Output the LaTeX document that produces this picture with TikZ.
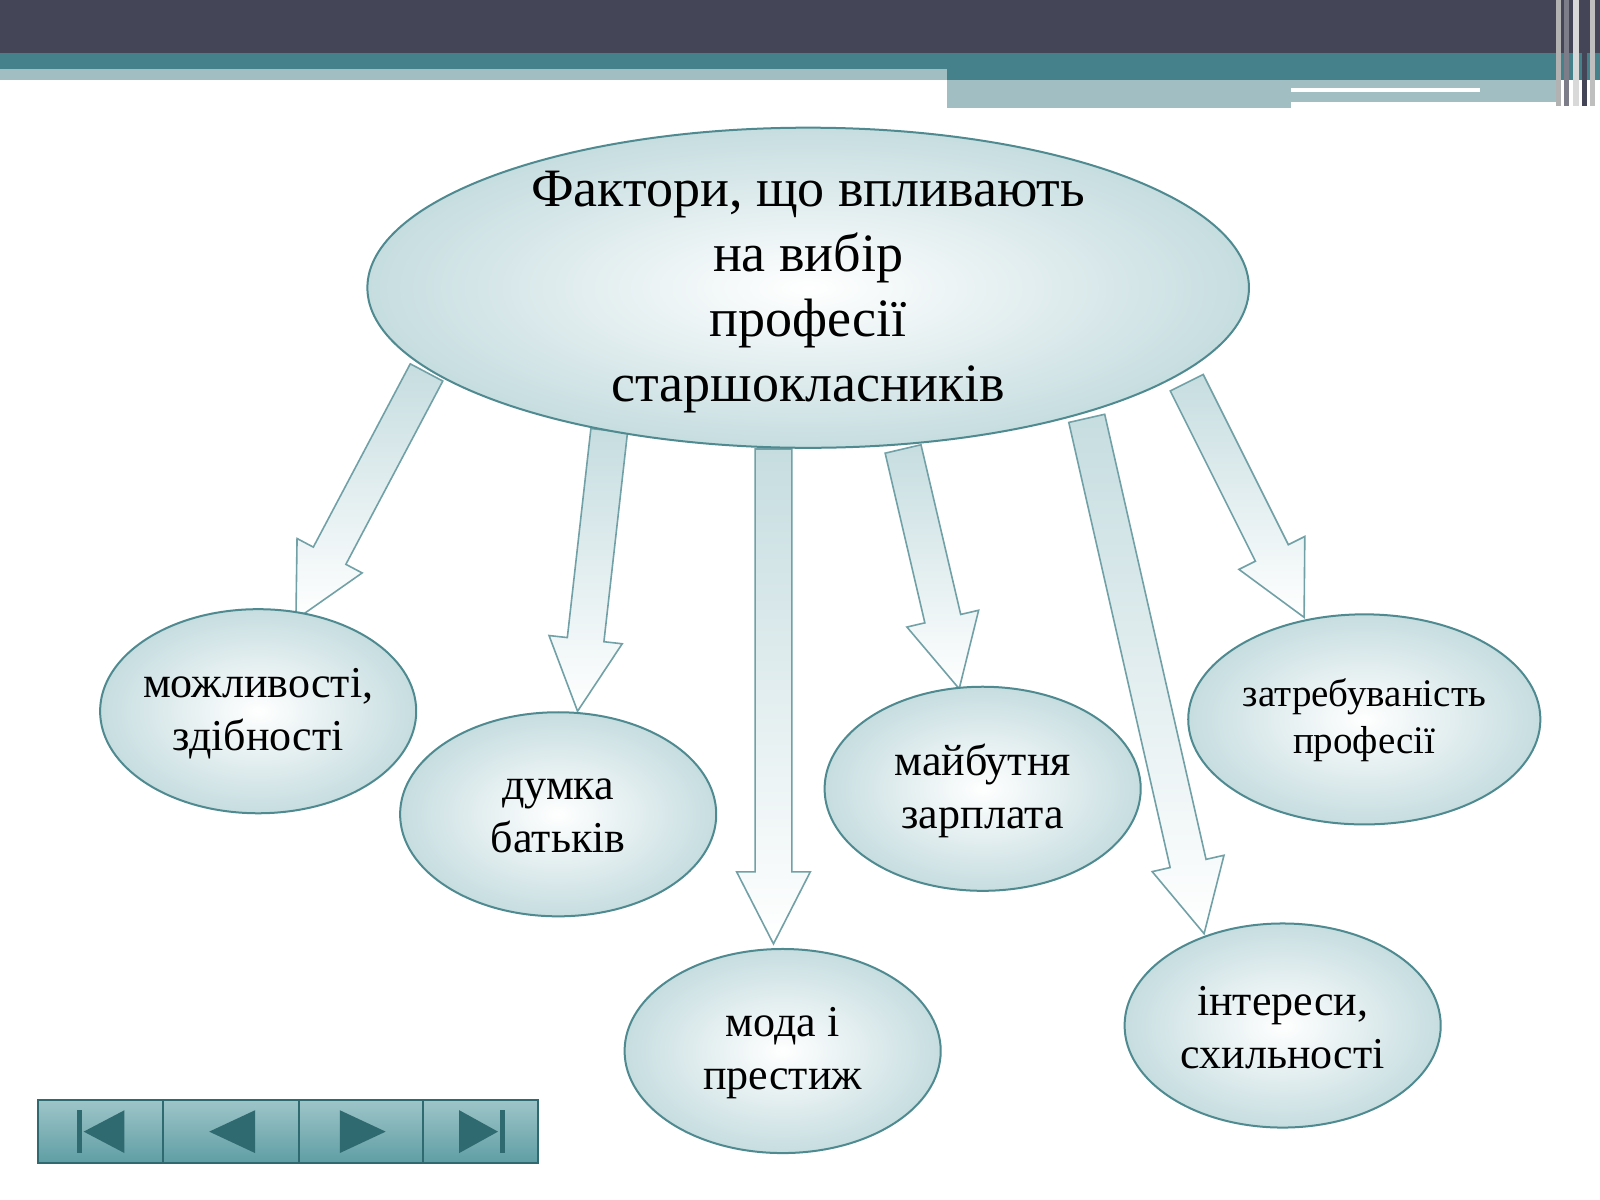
\documentclass[tikz,border=0pt]{standalone}
\usepackage{fontspec}
\setmainfont{Liberation Serif}
\usetikzlibrary{calc,shapes.geometric}
\definecolor{hdark}{HTML}{454558}
\definecolor{hteal}{HTML}{45818A}
\definecolor{hlight}{HTML}{A1BFC3}
\definecolor{edge}{HTML}{4E8A90}
\definecolor{fillA}{HTML}{C6DDE0}
\definecolor{btn}{HTML}{5E9EA4}
\definecolor{icon}{HTML}{2F6A70}
\tikzset{
  oval/.style={ellipse,draw=edge,line width=1pt,inner color=white,outer color=fillA,inner sep=0pt},
  txt/.style={align=center,inner sep=0pt},
  arr/.style={draw=edge!80,line width=0.8pt,left color=fillA,right color=white,shading angle=0},
  btnbox/.style={draw=icon,line width=1pt,top color=btn!60,bottom color=btn},
}
\newcommand\blkarrow[2]{%
  \path[arr] ($(#1)!9.2pt!90:(#2)$)
    -- ($($(#2)!36pt!(#1)$)!9.2pt!-90:(#1)$)
    -- ($($(#2)!36pt!(#1)$)!18.4pt!-90:(#1)$)
    -- (#2)
    -- ($($(#2)!36pt!(#1)$)!18.4pt!90:(#1)$)
    -- ($($(#2)!36pt!(#1)$)!9.2pt!90:(#1)$)
    -- ($(#1)!9.2pt!-90:(#2)$) -- cycle;}
\begin{document}
\begin{tikzpicture}[x=0.51pt,y=-0.51pt]
\useasboundingbox (0,0) rectangle (1568,1176);
\fill[white] (0,0) rectangle (1568,1176);
% header
\fill[hdark] (0,0) rectangle (1568,52);
\fill[hteal] (0,52) rectangle (1568,68);
\fill[hlight] (0,68) rectangle (928,78);
\fill[hteal] (928,68) rectangle (1568,78);
\fill[hlight] (928,78) rectangle (1530,100);
\fill[hlight] (928,100) rectangle (1265,106);
\fill[white] (1265,86) rectangle (1450,90);
\foreach \x/\c in {1525/gray!60,1533/hdark!70,1542/white!70!gray,1550/hdark,1558/gray!50} \fill[\c] (\x,0) rectangle ++(5,104);
% arrows (behind)
\coordinate (a1) at (418,365); \coordinate (b1) at (290,607);
\coordinate (a2) at (597,422); \coordinate (b2) at (566,697);
\coordinate (a3) at (758,440); \coordinate (b3) at (758,925);
\coordinate (a4) at (885,440); \coordinate (b4) at (940,675);
\coordinate (a5) at (1065,410); \coordinate (b5) at (1180,915);
\coordinate (a6) at (1163,375); \coordinate (b6) at (1278,605);
\blkarrow{a1}{b1}\blkarrow{a2}{b2}\blkarrow{a3}{b3}
\blkarrow{a4}{b4}\blkarrow{a5}{b5}\blkarrow{a6}{b6}
% nodes
\node[oval,minimum width=440.6pt,minimum height=160pt] (main) at (792,282) {};
\node[txt,font=\fontsize{27}{32.5}\selectfont] (maint) at (792,286) {Фактори, що впливають\\на вибір\\професії\\старшокласників};
\tikzset{small/.style={oval,minimum width=158pt,minimum height=102pt},
         smallt/.style={txt,font=\fontsize{22}{26.5}\selectfont}}
\node[small] (n1) at (253,697) {}; \node[smallt] (t1) at (253,699) {можливості,\\здібності};
\node[small] (n2) at (547,798) {}; \node[smallt] (t2) at (547,800) {думка\\батьків};
\node[small] (n3) at (767,1030) {}; \node[smallt] (t3) at (767,1032) {мода і\\престиж};
\node[small] (n4) at (963,773) {}; \node[smallt] (t4) at (963,775) {майбутня\\зарплата};
\node[small,minimum width=176pt,minimum height=105pt] (n5) at (1337,705) {};
\node[txt,font=\fontsize{19.5}{23.5}\selectfont] (t5) at (1337,706) {затребуваність\\професії};
\node[small] (n6) at (1257,1005) {}; \node[smallt] (t6) at (1257,1007) {інтереси,\\схильності};
% nav buttons
\foreach \l/\r in {37/160,160/293,293/415,415/527} \draw[btnbox] (\l,1078) rectangle (\r,1140);
\fill[icon] (75,1088) rectangle (80,1130); \fill[icon] (82,1109) -- (122,1088) -- (122,1130) -- cycle;
\fill[icon] (205,1109) -- (250,1088) -- (250,1130) -- cycle;
\fill[icon] (378,1109) -- (333,1088) -- (333,1130) -- cycle;
\fill[icon] (488,1109) -- (450,1088) -- (450,1130) -- cycle; \fill[icon] (490,1088) rectangle (495,1130);
\end{tikzpicture}
\end{document}
